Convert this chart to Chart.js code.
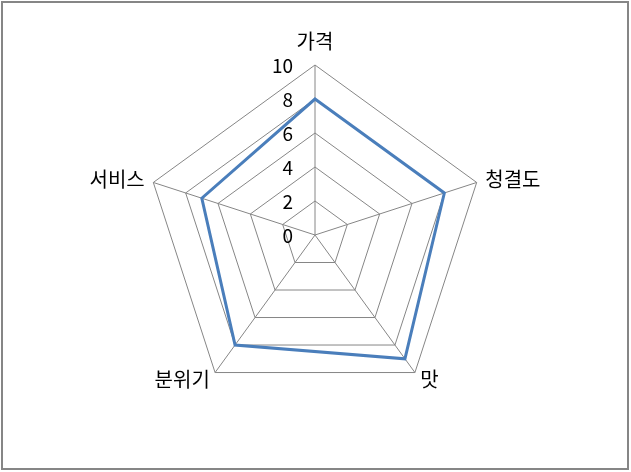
<!DOCTYPE html>
<html>
<head>
<meta charset="utf-8">
<style>
  html, body { margin: 0; padding: 0; background: #fff; }
  #chart { display: block; }
</style>
<script src="https://cdn.jsdelivr.net/npm/chart.js@4/dist/chart.umd.min.js"></script>
</head>
<body>
<canvas id="chart" width="631" height="472"></canvas>
<script>
// Chart data
const categories = ["가격", "청결도", "맛", "분위기", "서비스"];
const scores = [8, 8, 9, 8, 7];
const tickMin = 0;
const tickMax = 10;
const tickStep = 2;

const labelFont = '20px "Noto Sans CJK KR", "Noto Sans", sans-serif';
const tickFont = '19px "Noto Sans CJK KR", "Noto Sans", sans-serif';
const gridColor = "#868686";

// Draws the outer frame, the tick numbers (left of the top axis, including 0)
// and the category labels around the polygon
const excelLook = {
    id: "excelLook",
    afterDraw(chart) {
        const ctx = chart.ctx;
        const scale = chart.scales.r;

        ctx.save();
        ctx.strokeStyle = "#868686";
        ctx.lineWidth = 2;
        ctx.strokeRect(2, 2, 626, 467);

        ctx.fillStyle = "#000";
        ctx.textBaseline = "middle";

        // tick labels
        ctx.font = tickFont;
        ctx.textAlign = "right";
        scale.ticks.forEach(tick => {
            const y = scale.yCenter - scale.getDistanceFromCenterForValue(tick.value);
            ctx.fillText(String(tick.value), scale.xCenter - 22, y + 1);
        });

        // category labels
        ctx.font = labelFont;
        categories.forEach((name, i) => {
            const p = scale.getPointPosition(i, scale.drawingArea + 9);
            const dx = p.x - scale.xCenter;
            let y = p.y;
            if (Math.abs(dx) < 1) {
                ctx.textAlign = "center";
                y -= 15;
            } else {
                ctx.textAlign = dx > 0 ? "left" : "right";
            }
            ctx.fillText(name, p.x, y);
        });
        ctx.restore();
    }
};

new Chart(document.getElementById("chart").getContext("2d"), {
    type: "radar",
    data: {
        labels: categories,
        datasets: [{
            label: "점수",
            data: scores,
            borderColor: "#4A7EBB",
            borderWidth: 3,
            fill: false,
            pointRadius: 0,
            pointHoverRadius: 0,
            tension: 0
        }]
    },
    options: {
        responsive: false,
        animation: false,
        events: [],
        layout: { padding: { left: 145, right: 146, top: 65, bottom: 67 } },
        plugins: {
            legend: { display: false },
            tooltip: { enabled: false }
        },
        scales: {
            r: {
                min: tickMin,
                max: tickMax,
                ticks: { stepSize: tickStep, display: false },
                pointLabels: { display: false },
                grid: { circular: false, color: gridColor, lineWidth: 1 },
                angleLines: { color: gridColor, lineWidth: 1 }
            }
        }
    },
    plugins: [excelLook]
});
</script>
</body>
</html>
